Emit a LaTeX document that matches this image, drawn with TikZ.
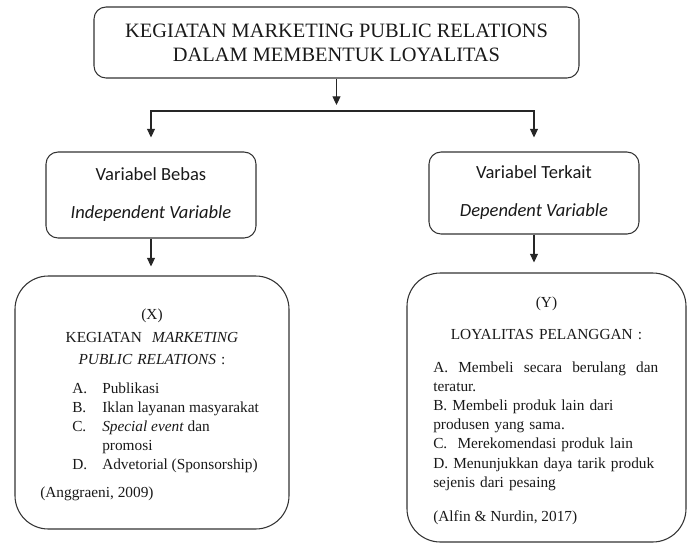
\documentclass[tikz,border=0pt]{standalone}
\usepackage{fontspec}
\setmainfont{Liberation Serif}
\newfontfamily\calibri{Carlito}
\usetikzlibrary{arrows.meta}

\begin{document}
\begin{tikzpicture}[x=0.75pt, y=-0.75pt,
	main/.style = {draw=black!80, line width=0.8pt, rounded corners=9pt},
	bigbox/.style = {main, rounded corners=25pt},
	tip/.style = {draw=black!85, line width=0.8pt, -{Triangle[width=6pt,length=6.5pt]}},
	txt/.style = {inner sep=0pt, text=black!90, font=\fontsize{11.5}{14.4}\selectfont}]
	\useasboundingbox (0,0) rectangle (694,544);
	% judul
	\node[main, minimum width=363.75pt, minimum height=53.25pt, align=center, text=black!90, font=\fontsize{15.3}{18}\selectfont] (top) at (336.5,42.5) {KEGIATAN MARKETING PUBLIC RELATIONS\\DALAM MEMBENTUK LOYALITAS};
	\coordinate (split) at (336.5,111);
	% variabel
	\node[main, minimum width=157.5pt, minimum height=64.5pt, align=center, text=black!90, font=\calibri\fontsize{13.9}{17}\selectfont] (bebas) at (151,195) {Variabel Bebas\\[11.5pt]\textit{Independent Variable}};
	\node[main, minimum width=157.5pt, minimum height=61.5pt, align=center, text=black!90, font=\calibri\fontsize{13.9}{17}\selectfont] (terkait) at (534,193) {Variabel Terkait\\[11.5pt]\textit{Dependent Variable}};
	% kotak bawah
	\node[bigbox, minimum width=205.5pt, minimum height=189.75pt] (xbox) at (152,402.5) {};
	\node[bigbox, minimum width=209.25pt, minimum height=201.75pt] (ybox) at (546.5,407.5) {};
	\node[txt, text width=150pt, align=center, anchor=base] (xhead) at (152,319) {(X)\\[2.85pt]KEGIATAN\ \ \textit{MARKETING}\\[2.1pt]\textit{PUBLIC RELATIONS} :};
	\node[txt, anchor=base west] (xlist) at (72,393) {\begin{tabular}[t]{@{}p{22.5pt}@{}l@{}}
		A. & Publikasi\\
		B. & Iklan layanan masyarakat\\
		C. & \textit{Special event} dan\\
		   & promosi\\
		D. & Advetorial (Sponsorship)
	\end{tabular}};
	\node[txt, anchor=base west] (xcite) at (40,497) {(Anggraeni, 2009)};
	\node[txt, text width=200pt, align=center, anchor=base] (yhead) at (546.5,307) {(Y)\\[9.6pt]LOYALITAS PELANGGAN :};
	\node[txt, text width=170pt, align=left, anchor=base west] (ylist) at (433,372) {\hyphenpenalty=10000 \hbox to 168.75pt{A.\hfill Membeli\hfill secara\hfill berulang\hfill dan}\\teratur.\\B. Membeli produk lain dari\\produsen yang sama.\\C.\ \ Merekomendasi produk lain\\D. Menunjukkan daya tarik produk\\sejenis dari pesaing};
	\node[txt, anchor=base west] (ycite) at (433,521) {(Alfin \& Nurdin, 2017)};
	% panah
	\draw[tip, shorten >=4.5pt] (top) -- (split);
	\draw[tip, shorten >=10.5pt] (split) -| (bebas);
	\draw[tip, shorten >=10.5pt] (split) -| (terkait);
	\draw[tip, shorten >=6.75pt] (bebas) -- (bebas |- xbox.north);
	\draw[tip, shorten >=7.5pt] (terkait) -- (terkait |- ybox.north);
\end{tikzpicture}
\end{document}
